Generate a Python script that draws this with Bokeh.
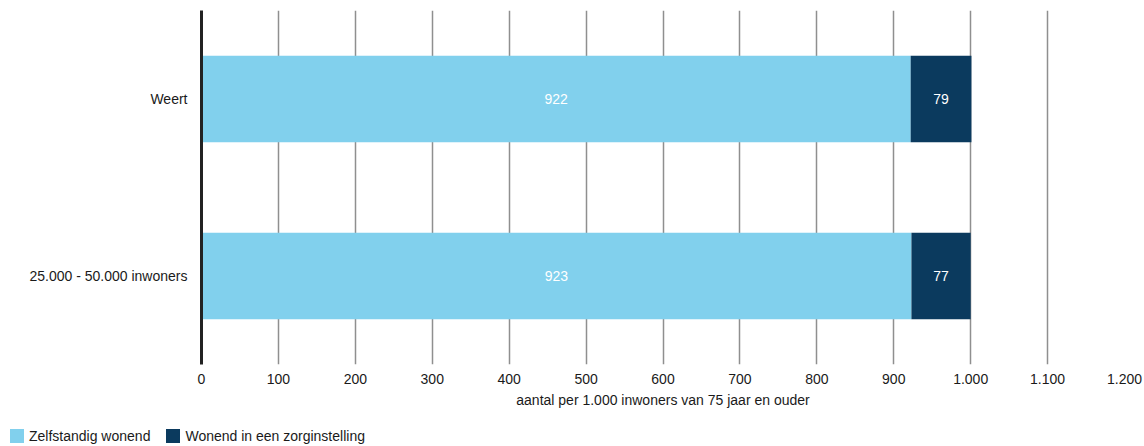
from bokeh.plotting import figure
from bokeh.models import ColumnDataSource, FixedTicker, LabelSet, Div
from bokeh.layouts import column
from bokeh.core.properties import value
from bokeh.embed import file_html
from bokeh.resources import INLINE

categories = ["25.000 - 50.000 inwoners", "Weert"]
zelfstandig = [923, 922]
zorginstelling = [77, 79]
series_names = ["Zelfstandig wonend", "Wonend in een zorginstelling"]
colors = ["#81d0ed", "#0b3a5e"]
tick_values = [0, 100, 200, 300, 400, 500, 600, 700, 800, 900, 1000, 1100, 1200]
tick_labels = ["0", "100", "200", "300", "400", "500", "600", "700", "800", "900",
               "1.000", "1.100", "1.200"]
x_title = "aantal per 1.000 inwoners van 75 jaar en ouder"

FONT = "Liberation Sans"
FS = "14px"
TXT = "#1a1a1a"

src = ColumnDataSource(dict(
    cat=categories,
    z=zelfstandig,
    w=zorginstelling,
    z_mid=[v / 2 for v in zelfstandig],
    w_mid=[a + b / 2 for a, b in zip(zelfstandig, zorginstelling)],
    z_txt=[str(v) for v in zelfstandig],
    w_txt=[str(v) for v in zorginstelling],
))

p = figure(y_range=categories, x_range=(0, 1200),
           width=1144, height=410,
           output_backend="svg", toolbar_location=None,
           min_border_left=201, min_border_top=10, min_border_right=20,
           min_border_bottom=43)
p.outline_line_color = None
p.background_fill_color = "white"

rs = p.hbar_stack(["z", "w"], y="cat", height=0.49, color=colors, source=src,
                  line_color=None)

for xcol, tcol in (("z_mid", "z_txt"), ("w_mid", "w_txt")):
    p.add_layout(LabelSet(x=xcol, y="cat", text=tcol, source=src,
                          text_align="center", text_baseline="middle",
                          text_color="white", text_font=value(FONT),
                          text_font_size=FS))

# grid
p.ygrid.grid_line_color = None
p.xgrid.ticker = FixedTicker(ticks=tick_values)
p.xgrid.grid_line_color = "#8f8f8f"
p.xgrid.grid_line_width = 1.5
p.xgrid.level = "underlay"

# x axis
xa = p.xaxis[0]
xa.ticker = FixedTicker(ticks=tick_values)
xa.major_label_overrides = {v: l for v, l in zip(tick_values, tick_labels)}
xa.axis_line_color = None
xa.major_tick_line_color = None
xa.minor_tick_line_color = None
xa.major_label_standoff = 3
xa.major_label_text_font = FONT
xa.major_label_text_font_size = FS
xa.major_label_text_color = TXT
xa.axis_label = x_title
xa.axis_label_text_font = FONT
xa.axis_label_text_font_size = FS
xa.axis_label_text_font_style = "normal"
xa.axis_label_text_color = TXT
xa.axis_label_standoff = 5

# y axis
ya = p.yaxis[0]
ya.axis_line_color = "#222222"
ya.axis_line_width = 3
ya.major_tick_line_color = None
ya.minor_tick_line_color = None
ya.major_label_standoff = 8
ya.major_label_text_font = FONT
ya.major_label_text_font_size = FS
ya.major_label_text_color = TXT

# legend (built from the series names and colours)
entries = []
for i, (name, col) in enumerate(zip(series_names, colors)):
    ml = "0" if i == 0 else "16px"
    entries.append(
        f'<span style="display:inline-block;width:14px;height:14px;background:{col};'
        f'vertical-align:top;margin-left:{ml};margin-right:5px"></span>'
        f'<span style="display:inline-block;vertical-align:top;line-height:15px">{name}</span>'
    )
legend_html = (
    f'<div style="font-family:\'{FONT}\';font-size:{FS};color:{TXT};line-height:15px;'
    f'padding:19px 0 0 10px;margin:0;white-space:nowrap">' + "".join(entries) + "</div>"
)
legend_div = Div(text=legend_html, width=1144, height=36, margin=(0, 0, 0, 0))

open("out.html", "w").write(file_html(column(p, legend_div, spacing=0), INLINE))
